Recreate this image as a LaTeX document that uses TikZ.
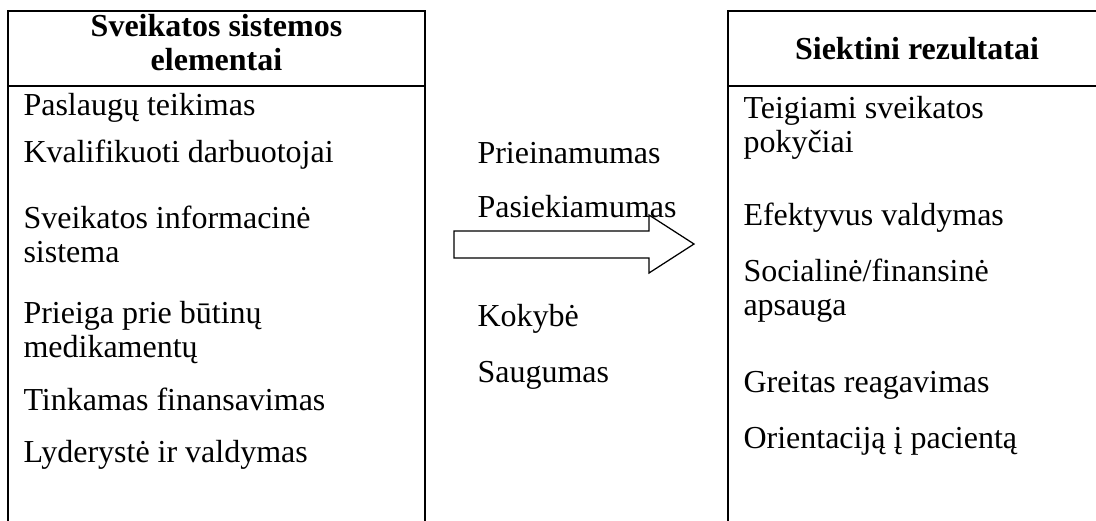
\documentclass[tikz,border=0pt]{standalone}
\usepackage{fontspec}
\setmainfont{Liberation Serif}
\begin{document}
\begin{tikzpicture}[x=0.4pt,y=-0.4pt,
  rule/.style={black,line width=0.8pt},
  item/.style={anchor=base west,align=left,font=\fontsize{12.8}{13.6}\selectfont},
  head/.style={anchor=base,align=center,font=\fontsize{12.8}{13.6}\selectfont\bfseries}]
\tikzstyle{every node}+=[inner sep=0pt]
\useasboundingbox (0,0) rectangle (1096,521);
% left column (two-line nodes sit on their last line)
\draw [rule] (8,521) -- (8,11) -- (425,11) -- (425,521);
\draw [rule] (8,86) -- (425,86);
\node [head] (elemhead) at (216.5,70) {Sveikatos sistemos\\elementai};
\node [item] (el1) at (23,115) {Paslaugų teikimas};
\node [item] (el2) at (23,162) {Kvalifikuoti darbuotojai};
\node [item] (el3) at (23,262) {Sveikatos informacinė\\sistema};
\node [item] (el4) at (23,357) {Prieiga prie būtinų\\medikamentų};
\node [item] (el5) at (23,410) {Tinkamas finansavimas};
\node [item] (el6) at (23,462) {Lyderystė ir valdymas};
% middle
\node [item] (mid1) at (477,163) {Prieinamumas};
\node [item] (mid2) at (477,217) {Pasiekiamumas};
\node [item] (mid3) at (477,326) {Kokybė};
\node [item] (mid4) at (477,382) {Saugumas};
\draw [black,line width=0.5pt] (454,231) -- (649,231) -- (649,215) -- (694,244)
  -- (649,273) -- (649,258) -- (454,258) -- cycle;
% right column
\draw [rule] (728,521) -- (728,11) -- (1096,11);
\draw [rule] (728,86) -- (1096,86);
\node [head] (reshead) at (917,59) {Siektini rezultatai};
\node [item] (res1) at (743,152) {Teigiami sveikatos\\pokyčiai};
\node [item] (res2) at (743,225) {Efektyvus valdymas};
\node [item] (res3) at (743,315) {Socialinė/finansinė\\apsauga};
\node [item] (res4) at (743,392) {Greitas reagavimas};
\node [item] (res5) at (743,448) {Orientaciją į pacientą};
\end{tikzpicture}
\end{document}
